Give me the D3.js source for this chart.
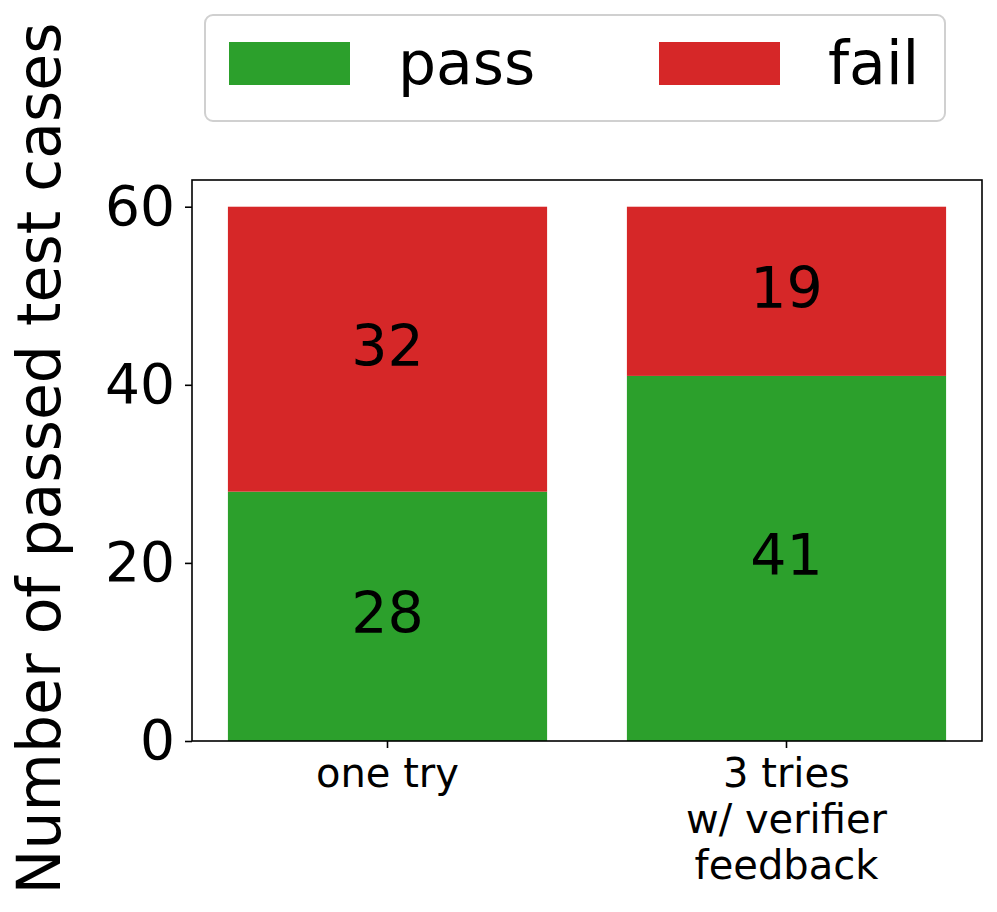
<!DOCTYPE html>
<html>
<head>
<meta charset="utf-8">
<script src="https://cdn.jsdelivr.net/npm/d3@7"></script>
<style>
  body { margin: 0; background: #fff; }
  text { font-family: "DejaVu Sans", sans-serif; }
</style>
</head>
<body>
<script>
var width = 997;
var height = 912;

// data
var categories = ['one try', '3 tries\nw/ verifier\nfeedback'];
var passVals = [28, 41];
var failVals = [32, 19];
var yTicks = [0, 20, 40, 60];
var seriesNames = ['pass', 'fail'];
var colors = ['#2ca02c', '#d62728'];

var margin = {left: 192, right: 15, top: 180, bottom: 171};

var svg = d3.select('body')
    .append('svg')
    .attr('width', width)
    .attr('height', height);

var x = d3.scaleBand()
    .domain(categories)
    .range([margin.left, width - margin.right])
    .paddingInner(0.2)
    .paddingOuter(0.09);

var y = d3.scaleLinear()
    .domain([0, 63])
    .range([height - margin.bottom, margin.top]);

// stacked bars
var stacks = categories.map(function(c, i) {
    return [
        {cat: c, y0: 0, y1: passVals[i], v: passVals[i], color: colors[0]},
        {cat: c, y0: passVals[i], y1: passVals[i] + failVals[i], v: failVals[i], color: colors[1]}
    ];
});
var segs = [].concat.apply([], stacks);

svg.selectAll('rect.seg')
    .data(segs)
    .enter()
    .append('rect')
    .attr('class', 'seg')
    .attr('x', function(d) { return x(d.cat); })
    .attr('y', function(d) { return y(d.y1); })
    .attr('width', x.bandwidth())
    .attr('height', function(d) { return y(d.y0) - y(d.y1); })
    .attr('fill', function(d) { return d.color; });

svg.selectAll('text.val')
    .data(segs)
    .enter()
    .append('text')
    .attr('class', 'val')
    .attr('x', function(d) { return x(d.cat) + x.bandwidth() / 2; })
    .attr('y', function(d) { return y((d.y0 + d.y1) / 2) - 4; })
    .attr('dy', '0.36em')
    .attr('text-anchor', 'middle')
    .attr('font-size', 57)
    .attr('fill', '#000')
    .text(function(d) { return d.v; });

// axes box
svg.append('rect')
    .attr('x', margin.left)
    .attr('y', margin.top)
    .attr('width', width - margin.right - margin.left)
    .attr('height', height - margin.bottom - margin.top)
    .attr('fill', 'none')
    .attr('stroke', '#000')
    .attr('stroke-width', 1.6);

// y axis
var yAxis = svg.append('g')
    .attr('transform', 'translate(' + margin.left + ',0)')
    .call(d3.axisLeft(y).tickValues(yTicks).tickSize(7).tickPadding(10));
yAxis.select('.domain').remove();
yAxis.selectAll('line').attr('stroke-width', 1.6);
yAxis.selectAll('text')
    .attr('font-size', 55)
    .attr('font-family', 'DejaVu Sans')
    .attr('fill', '#000');

// x axis
var xAxis = svg.append('g')
    .attr('transform', 'translate(0,' + (height - margin.bottom) + ')')
    .call(d3.axisBottom(x).tickSize(7).tickFormat(''));
xAxis.select('.domain').remove();
xAxis.selectAll('line').attr('stroke-width', 1.6);

categories.forEach(function(c) {
    var lines = c.split('\n');
    var t = svg.append('text')
        .attr('x', x(c) + x.bandwidth() / 2)
        .attr('y', height - margin.bottom + 46)
        .attr('text-anchor', 'middle')
        .attr('font-size', 40)
        .attr('fill', '#000');
    lines.forEach(function(l, i) {
        t.append('tspan')
            .attr('x', x(c) + x.bandwidth() / 2)
            .attr('dy', i === 0 ? 0 : 46)
            .text(l);
    });
});

// y label
svg.append('text')
    .attr('transform', 'translate(60,' + ((margin.top + height - margin.bottom) / 2 - 2) + ') rotate(-90)')
    .attr('text-anchor', 'middle')
    .attr('font-size', 60)
    .attr('fill', '#000')
    .text('Number of passed test cases');

// legend
var legend = svg.append('g');
legend.append('rect')
    .attr('x', 205)
    .attr('y', 15)
    .attr('width', 740)
    .attr('height', 106)
    .attr('rx', 8)
    .attr('fill', '#fff')
    .attr('stroke', '#d0d0d0')
    .attr('stroke-width', 2);

var legX = [229, 659];
seriesNames.forEach(function(n, i) {
    legend.append('rect')
        .attr('x', legX[i])
        .attr('y', 42)
        .attr('width', 121)
        .attr('height', 43)
        .attr('fill', colors[i]);
    legend.append('text')
        .attr('x', legX[i] + 169)
        .attr('y', 62)
        .attr('dy', '0.36em')
        .attr('font-size', 60)
        .attr('fill', '#000')
        .text(n);
});
</script>
</body>
</html>
